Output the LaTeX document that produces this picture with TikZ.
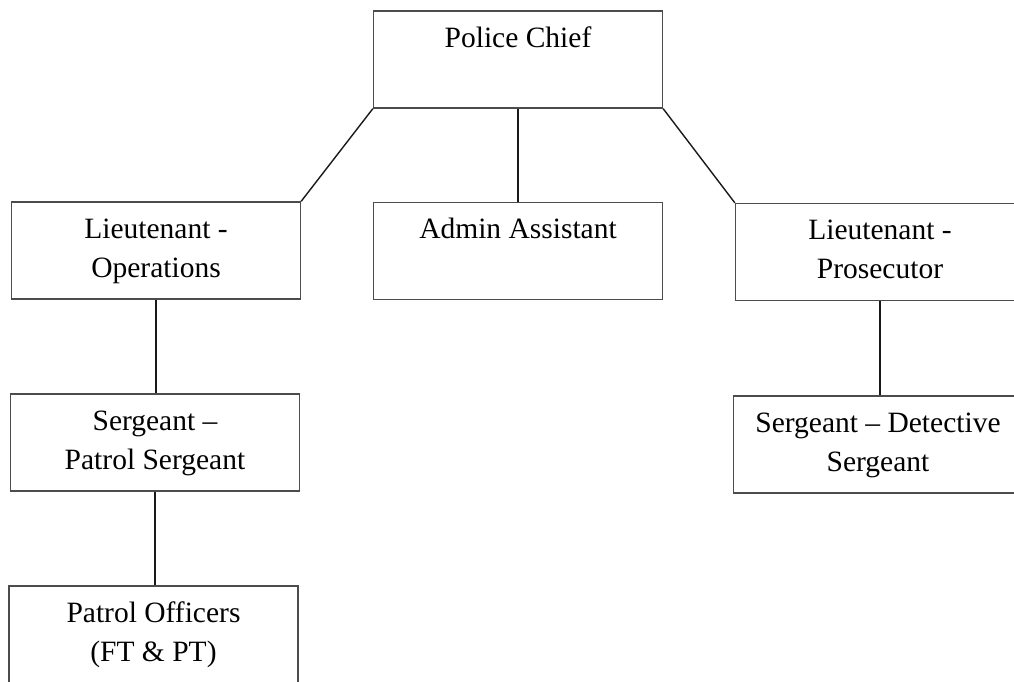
\documentclass[tikz,border=0pt]{standalone}
\usepackage{fontspec}
\setmainfont{Liberation Serif}
\begin{document}
\begin{tikzpicture}[x=1pt,y=1pt,
  box/.style={draw=black!70,line width=1.3pt,rectangle,minimum width=289pt,minimum height=97pt,inner sep=0pt},
  lbl/.style={anchor=base,inner sep=0pt,font=\fontsize{29.5}{39}\selectfont},
  link/.style={draw=black!90,line width=1.4pt}]
\useasboundingbox (0,0) rectangle (1014,-682);
\clip (0,0) rectangle (1014,-682);
\node[box] (pc) at (518,-59.5) {};
\node[box] (lo) at (156,-250.5) {};
\node[box] (aa) at (518,-251) {};
\node[box] (lp) at (880,-252) {};
\node[box] (sp) at (155,-442.5) {};
\node[box] (sd) at (878,-444.5) {};
\node[box] (po) at (153.5,-634.5) {};
\newcommand{\boxtext}[3]{\node[lbl] (#1) at ([yshift=-37pt]#2.north) {\begin{tabular}[t]{@{}c@{}}#3\end{tabular}};}
\boxtext{tpc}{pc}{Police Chief}
\boxtext{tlo}{lo}{Lieutenant -\\Operations}
\boxtext{taa}{aa}{Admin Assistant}
\boxtext{tlp}{lp}{Lieutenant -\\Prosecutor}
\boxtext{tsp}{sp}{Sergeant –\\Patrol Sergeant}
\boxtext{tsd}{sd}{Sergeant – Detective\\Sergeant}
\boxtext{tpo}{po}{Patrol Officers\\(FT \& PT)}
\draw[link] (pc.south west) -- (lo.north east);
\draw[link] (pc.south) -- (aa.north);
\draw[link] (pc.south east) -- (lp.north west);
\draw[link] (lo.south) -- (lo.south |- sp.north);
\draw[link] (sd.north -| lp.south) -- (lp.south);
\draw[link] (sp.south) -- (sp.south |- po.north);
\end{tikzpicture}
\end{document}
